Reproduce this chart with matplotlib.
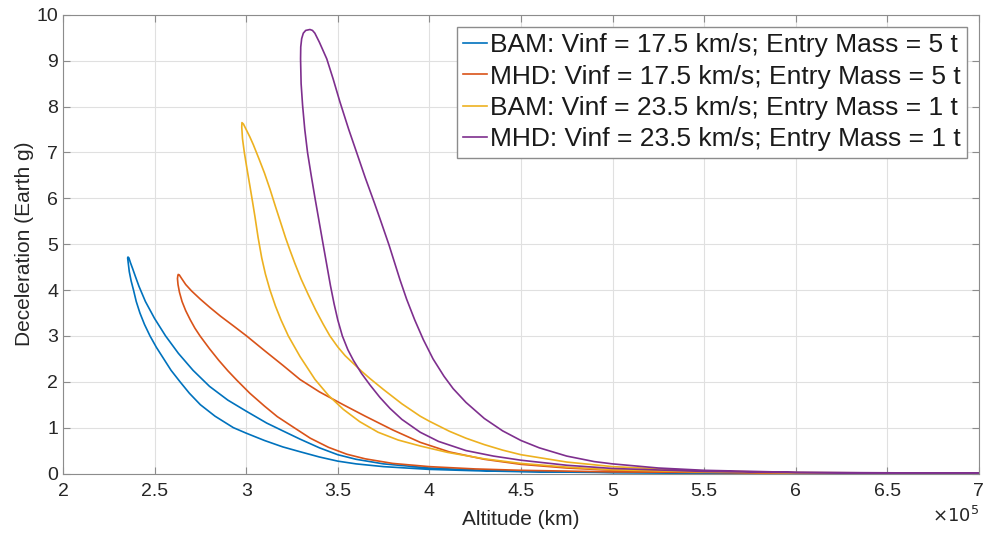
import numpy as np
import matplotlib.pyplot as plt
from matplotlib.ticker import FuncFormatter

# altitudes in units of 1e5 km, decelerations in Earth g
# each series runs: tail -> lower branch -> peak -> upper branch -> tail
ALT_SCALE = 1e5

bam_17_alt = [7.0, 6.0, 5.0, 4.5, 4.25, 4.0, 3.75, 3.6, 3.5, 3.4, 3.294, 3.2, 3.1, 3.0, 2.93, 2.83, 2.75, 2.69,
              2.639, 2.59, 2.55, 2.51, 2.475, 2.445, 2.42, 2.40, 2.385, 2.372, 2.362, 2.356, 2.353,
              2.355, 2.36, 2.368, 2.38, 2.395, 2.415, 2.45, 2.50, 2.56, 2.63, 2.71, 2.80, 2.90, 3.0, 3.112, 3.2,
              3.294, 3.4, 3.5, 3.6, 3.75, 4.0, 4.25, 4.5, 5.0, 6.0, 7.0]
bam_17_dec = [0.003, 0.008, 0.02, 0.04, 0.06, 0.09, 0.15, 0.21, 0.27, 0.36, 0.475, 0.58, 0.72, 0.88, 1.0, 1.25,
              1.5, 1.75, 2.0, 2.25, 2.5, 2.75, 3.0, 3.25, 3.5, 3.75, 4.0, 4.2, 4.4, 4.6, 4.7,
              4.72, 4.7, 4.6, 4.47, 4.3, 4.08, 3.75, 3.38, 3.0, 2.62, 2.25, 1.9, 1.6, 1.36, 1.1, 0.93,
              0.75, 0.56, 0.41, 0.31, 0.21, 0.12, 0.075, 0.05, 0.025, 0.01, 0.004]

mhd_17_alt = [7.0, 6.0, 5.0, 4.5, 4.25, 4.0, 3.8, 3.65, 3.55, 3.45, 3.35, 3.25, 3.17, 3.1, 3.02, 2.95, 2.90,
              2.85, 2.80, 2.748, 2.72, 2.695, 2.67, 2.65, 2.636, 2.628, 2.625, 2.627,
              2.629, 2.635, 2.648, 2.67, 2.702, 2.75, 2.802, 2.86, 2.93, 3.002, 3.1, 3.2, 3.294, 3.4, 3.53, 3.65,
              3.8, 3.95, 4.11, 4.3, 4.5, 4.75, 5.0, 5.5, 6.0, 7.0]
mhd_17_dec = [0.004, 0.012, 0.035, 0.07, 0.1, 0.15, 0.22, 0.32, 0.42, 0.57, 0.77, 1.03, 1.24, 1.47, 1.75,
              2.03, 2.24, 2.47, 2.72, 3.0, 3.17, 3.35, 3.55, 3.75, 3.95, 4.12, 4.25, 4.31,
              4.34, 4.33, 4.25, 4.12, 3.98, 3.8, 3.62, 3.43, 3.22, 3.0, 2.68, 2.36, 2.05, 1.78, 1.5, 1.25,
              0.95, 0.68, 0.47, 0.31, 0.2, 0.12, 0.07, 0.03, 0.015, 0.004]

bam_23_alt = [7.0, 6.0, 5.5, 5.0, 4.75, 4.5, 4.3, 4.1, 3.95, 3.83, 3.72, 3.62, 3.53, 3.45, 3.376, 3.294, 3.23,
              3.19, 3.16, 3.13, 3.105, 3.085, 3.065, 3.048, 3.035, 3.02, 3.003, 2.99, 2.98, 2.976, 2.977,
              2.985, 3.0, 3.02, 3.039, 3.07, 3.10, 3.13, 3.16, 3.19, 3.215, 3.239, 3.266, 3.30, 3.339, 3.38,
              3.42, 3.457, 3.50, 3.54, 3.585, 3.63, 3.676, 3.75, 3.85, 3.95, 4.0, 4.11, 4.2, 4.3, 4.4, 4.5,
              4.75, 5.0, 5.5, 6.0, 7.0]
bam_23_dec = [0.005, 0.015, 0.035, 0.08, 0.14, 0.22, 0.32, 0.46, 0.6, 0.73, 0.9, 1.13, 1.4, 1.7, 2.05, 2.55,
              3.0, 3.35, 3.65, 4.0, 4.35, 4.7, 5.15, 5.6, 5.92, 6.28, 6.68, 7.0, 7.3, 7.55, 7.65,
              7.62, 7.5, 7.34, 7.17, 6.86, 6.55, 6.2, 5.82, 5.45, 5.14, 4.87, 4.58, 4.24, 3.9, 3.56,
              3.26, 3.0, 2.76, 2.57, 2.4, 2.23, 2.07, 1.83, 1.52, 1.25, 1.14, 0.92, 0.77, 0.63, 0.51, 0.41,
              0.25, 0.15, 0.055, 0.02, 0.005]

mhd_23_alt = [7.0, 6.0, 5.5, 5.0, 4.75, 4.5, 4.35, 4.2, 4.05, 3.95, 3.85, 3.785, 3.73, 3.676, 3.63, 3.585, 3.555,
              3.525, 3.50, 3.48, 3.46, 3.44, 3.42, 3.398, 3.376, 3.355, 3.335, 3.32, 3.308, 3.30, 3.297,
              3.298, 3.303, 3.312, 3.325,
              3.348, 3.362, 3.375, 3.40, 3.44, 3.475, 3.512, 3.56, 3.603, 3.65, 3.70, 3.73, 3.78, 3.84, 3.876,
              3.92, 3.967, 4.02, 4.08, 4.13, 4.2, 4.3, 4.4, 4.5, 4.6, 4.75, 4.9, 5.0, 5.25, 5.5, 6.0, 7.0]
mhd_23_dec = [0.005, 0.02, 0.045, 0.11, 0.18, 0.29, 0.38, 0.5, 0.7, 0.9, 1.18, 1.42, 1.66, 1.93, 2.18, 2.47,
              2.7, 3.0, 3.35, 3.7, 4.1, 4.55, 5.0, 5.5, 6.0, 6.5, 7.0, 7.5, 8.03, 8.5, 9.04,
              9.3, 9.48, 9.6, 9.66,
              9.68, 9.66, 9.6, 9.4, 9.04, 8.6, 8.1, 7.5, 7.0, 6.45, 5.9, 5.56, 4.98, 4.22, 3.8,
              3.35, 2.92, 2.5, 2.12, 1.85, 1.55, 1.2, 0.93, 0.72, 0.56, 0.38, 0.26, 0.21, 0.12, 0.07, 0.025, 0.006]

labels = ['BAM: Vinf = 17.5 km/s; Entry Mass = 5 t',
          'MHD: Vinf = 17.5 km/s; Entry Mass = 5 t',
          'BAM: Vinf = 23.5 km/s; Entry Mass = 1 t',
          'MHD: Vinf = 23.5 km/s; Entry Mass = 1 t']
colors = ['#0072BD', '#D95319', '#EDB120', '#7E2F8E']

plt.rcParams['font.family'] = ['Liberation Sans', 'DejaVu Sans']

fig = plt.figure(figsize=(9.87, 5.39), dpi=100)
ax = fig.add_axes([0.0638, 0.1215, 0.928, 0.851])

series = [(bam_17_alt, bam_17_dec), (mhd_17_alt, mhd_17_dec),
          (bam_23_alt, bam_23_dec), (mhd_23_alt, mhd_23_dec)]
for (alt, dec), lab, col in zip(series, labels, colors):
    ax.plot(np.array(alt) * ALT_SCALE, dec, color=col, lw=1.2, label=lab)

ax.set_xlim(2e5, 7e5)
ax.set_ylim(0, 10)
ax.set_xticks(np.arange(2e5, 7.01e5, 0.5e5))
ax.set_yticks(range(0, 11))
ax.xaxis.set_major_formatter(FuncFormatter(lambda v, p: f'{v / ALT_SCALE:g}'))
ax.text(1.0, -0.07, r'$\times10^5$', transform=ax.transAxes, ha='right', va='top',
        fontsize=13, color='#262626')

ax.grid(True, color='#e0e0e0', lw=0.8)
ax.set_axisbelow(True)
for s in ax.spines.values():
    s.set_color('#8c8c8c')
ax.tick_params(direction='in', length=5, color='#8c8c8c', labelsize=14, labelcolor='#262626',
               top=True, right=True)
ax.tick_params(axis='x', pad=7)

ax.set_xlabel('Altitude (km)', fontsize=15, color='#262626', labelpad=7)
ax.set_ylabel('Deceleration (Earth g)', fontsize=15, color='#262626', labelpad=2)

leg = ax.legend(loc='upper right', fontsize=19, handlelength=0.9, handletextpad=0.1,
                borderaxespad=0.45, borderpad=0.25, labelspacing=0.28, fancybox=False,
                framealpha=1, edgecolor='#8c8c8c')
leg.get_frame().set_linewidth(1.0)
for t in leg.get_texts():
    t.set_color('#1a1a1a')

fig.savefig('out.png', dpi=100)
